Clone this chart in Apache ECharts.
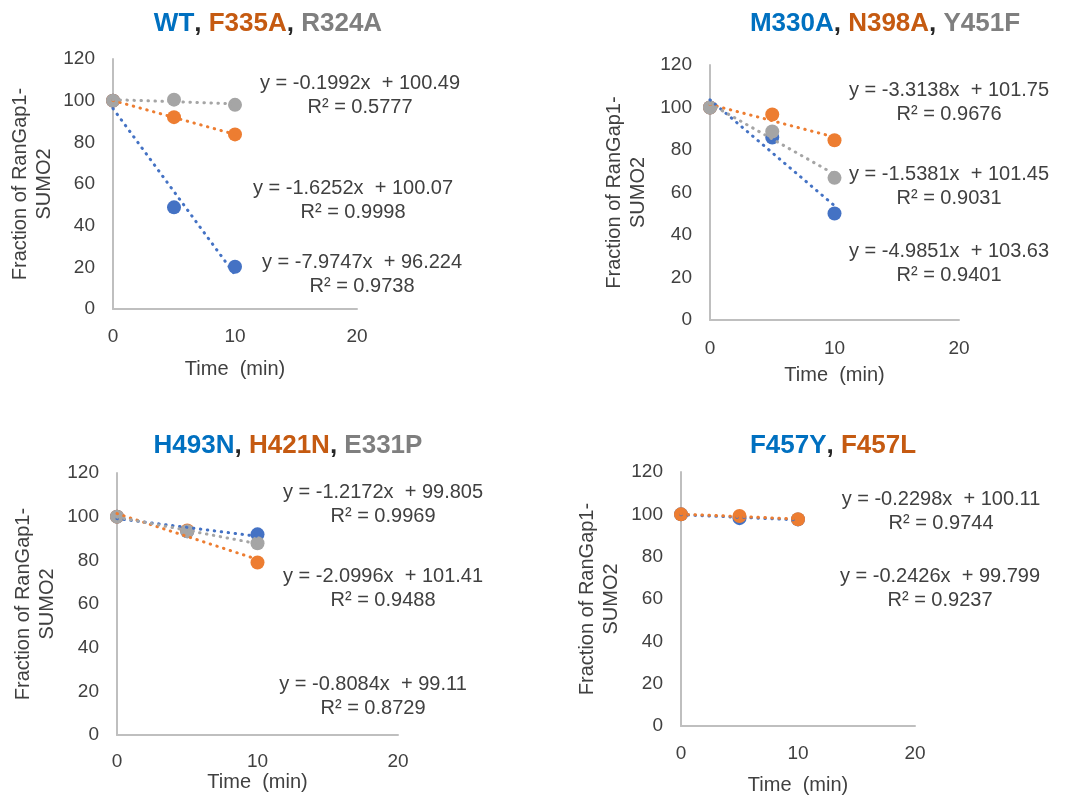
<!doctype html>
<html>
<head>
<meta charset="utf-8">
<title>RanGap1-SUMO2</title>
<script src="https://cdn.jsdelivr.net/npm/echarts@6/dist/echarts.min.js"></script>
<style>
    html,body{
        margin: 0;
        padding: 0;
        background: #fff;
    }
    #chart{
        width: 1068px;
        height: 797px;
    }
</style>
</head>
<body>
    <div id="chart"></div>
</body>

<script>
    // time points (min)
    var times = [0, 5, 10];

    // panel 1: WT, F335A, R324A
    var wt    = [100, 48.8, 20.3];
    var f335a = [100, 92.1, 83.8];
    var r324a = [100, 100.5, 98.0];
    // panel 2: M330A, N398A, Y451F
    var m330a = [100, 85.9, 50.1];
    var n398a = [100, 96.7, 84.6];
    var y451f = [100, 88.7, 66.9];
    // panel 3: H493N, H421N, E331P
    var h493n = [100, 93.3, 91.9];
    var h421n = [100, 93.7, 79.0];
    var e331p = [100, 93.3, 87.8];
    // panel 4: F457Y, F457L
    var f457y = [100, 98.2, 97.6];
    var f457l = [100, 99.2, 97.7];

    // linear trendlines [slope, intercept, R²]
    var fitWT    = [-7.9747, 96.224, 0.9738];
    var fitF335A = [-1.6252, 100.07, 0.9998];
    var fitR324A = [-0.1992, 100.49, 0.5777];
    var fitM330A = [-4.9851, 103.63, 0.9401];
    var fitN398A = [-1.5381, 101.45, 0.9031];
    var fitY451F = [-3.3138, 101.75, 0.9676];
    var fitH493N = [-0.8084, 99.11, 0.8729];
    var fitH421N = [-2.0996, 101.41, 0.9488];
    var fitE331P = [-1.2172, 99.805, 0.9969];
    var fitF457Y = [-0.2426, 99.799, 0.9237];
    var fitF457L = [-0.2298, 100.11, 0.9744];

    var yTicks = [0, 120, 20];
    var xTicks = [0, 20, 10];

    var BLUE = '#4472C4', ORANGE = '#ED7D31', GRAY = '#A5A5A5';
    var FONT = '"Liberation Sans", Arial, sans-serif';
    var TXT = '#404040';

    var grids = [
        {left: 113, top: 59,  width: 244, height: 250},
        {left: 710, top: 65,  width: 249, height: 255},
        {left: 117, top: 473, width: 281, height: 262},
        {left: 681, top: 472, width: 234, height: 254}
    ];
    var xNameGap = [50, 45, 37, 49];
    var xLabelMargin = [18, 19, 17, 18];
    var yNameGap = [57, 60, 58, 58];

    var panels = [
        {series: [[wt, fitWT, BLUE], [f335a, fitF335A, ORANGE], [r324a, fitR324A, GRAY]],
         eqs: [[fitR324A, 360, 95], [fitF335A, 353, 200], [fitWT, 362, 274]]},
        {series: [[m330a, fitM330A, BLUE], [n398a, fitN398A, ORANGE], [y451f, fitY451F, GRAY]],
         eqs: [[fitY451F, 949, 102], [fitN398A, 949, 186], [fitM330A, 949, 263]]},
        {series: [[h493n, fitH493N, BLUE], [h421n, fitH421N, ORANGE], [e331p, fitE331P, GRAY]],
         eqs: [[fitE331P, 383, 504], [fitH421N, 383, 588], [fitH493N, 373, 696]]},
        {series: [[f457y, fitF457Y, BLUE], [f457l, fitF457L, ORANGE]],
         eqs: [[fitF457L, 941, 511], [fitF457Y, 940, 588]]}
    ];

    var titles = [
        {x: 263, y: 6,   text: '{b|WT}{k|, }{o|F335A}{k|, }{g|R324A}'},
        {x: 880, y: 6,   text: '{b|M330A}{k|, }{o|N398A}{k|, }{g|Y451F}'},
        {x: 283, y: 428, text: '{b|H493N}{k|, }{o|H421N}{k|, }{g|E331P}'},
        {x: 828, y: 428, text: '{b|F457Y}{k|, }{o|F457L}'}
    ];

    function eqString(fit) {
        return 'y = ' + fit[0] + 'x  + ' + fit[1] + '\nR² = ' + fit[2];
    }

    var xAxes = [], yAxes = [], series = [], graphics = [], titleList = [];

    for (var i = 0; i < 4; i++) {
        xAxes.push({
            type: 'value', gridIndex: i,
            min: xTicks[0], max: xTicks[1], interval: xTicks[2],
            name: 'Time  (min)', nameLocation: 'middle', nameGap: xNameGap[i],
            nameTextStyle: {color: TXT, fontSize: 20, fontFamily: FONT},
            axisLine: {lineStyle: {color: '#BFBFBF', width: 2}},
            axisTick: {show: false},
            splitLine: {show: false},
            axisLabel: {color: TXT, fontSize: 19, fontFamily: FONT, margin: xLabelMargin[i]}
        });
        yAxes.push({
            type: 'value', gridIndex: i,
            min: yTicks[0], max: yTicks[1], interval: yTicks[2],
            name: 'Fraction of RanGap1-\nSUMO2', nameLocation: 'middle', nameGap: yNameGap[i], nameRotate: 90,
            nameTextStyle: {color: TXT, fontSize: 20, fontFamily: FONT, lineHeight: 24},
            axisLine: {show: true, lineStyle: {color: '#BFBFBF', width: 2}},
            axisTick: {show: false},
            splitLine: {show: false},
            axisLabel: {color: TXT, fontSize: 19, fontFamily: FONT, margin: 18}
        });

        panels[i].series.forEach(function (s) {
            var vals = s[0], fit = s[1], color = s[2];
            series.push({
                type: 'scatter', xAxisIndex: i, yAxisIndex: i,
                symbolSize: 14,
                itemStyle: {color: color, opacity: 1},
                data: times.map(function (t, k) { return [t, vals[k]]; }),
                z: 2
            });
            // dotted linear trendline from the fitted equation
            var x0 = times[0], x1 = times[times.length - 1];
            series.push({
                type: 'line', xAxisIndex: i, yAxisIndex: i,
                showSymbol: false, silent: true,
                lineStyle: {color: color, width: 3, type: [0.5, 6.5], cap: 'round'},
                data: [[x0, fit[0] * x0 + fit[1]], [x1, fit[0] * x1 + fit[1]]],
                z: 3
            });
        });

        panels[i].eqs.forEach(function (e) {
            graphics.push({
                type: 'text', x: e[1], y: e[2],
                style: {
                    text: eqString(e[0]),
                    align: 'center', verticalAlign: 'middle',
                    font: '20px ' + FONT, lineHeight: 24,
                    fill: TXT
                }
            });
        });

        titleList.push({
            text: titles[i].text,
            left: titles[i].x, top: titles[i].y, textAlign: 'center',
            textStyle: {
                fontFamily: FONT, fontSize: 26, fontWeight: 'bold',
                rich: {
                    b: {color: '#0070C0', fontSize: 26, fontWeight: 'bold', fontFamily: FONT},
                    o: {color: '#C55A11', fontSize: 26, fontWeight: 'bold', fontFamily: FONT},
                    g: {color: '#7F7F7F', fontSize: 26, fontWeight: 'bold', fontFamily: FONT},
                    k: {color: '#262626', fontSize: 26, fontWeight: 'bold', fontFamily: FONT}
                }
            }
        });
    }

    var chart = echarts.init(document.getElementById('chart'));
    chart.setOption({
        animation: false,
        backgroundColor: '#fff',
        title: titleList,
        grid: grids,
        xAxis: xAxes,
        yAxis: yAxes,
        series: series,
        graphic: graphics
    });
</script>
</html>
